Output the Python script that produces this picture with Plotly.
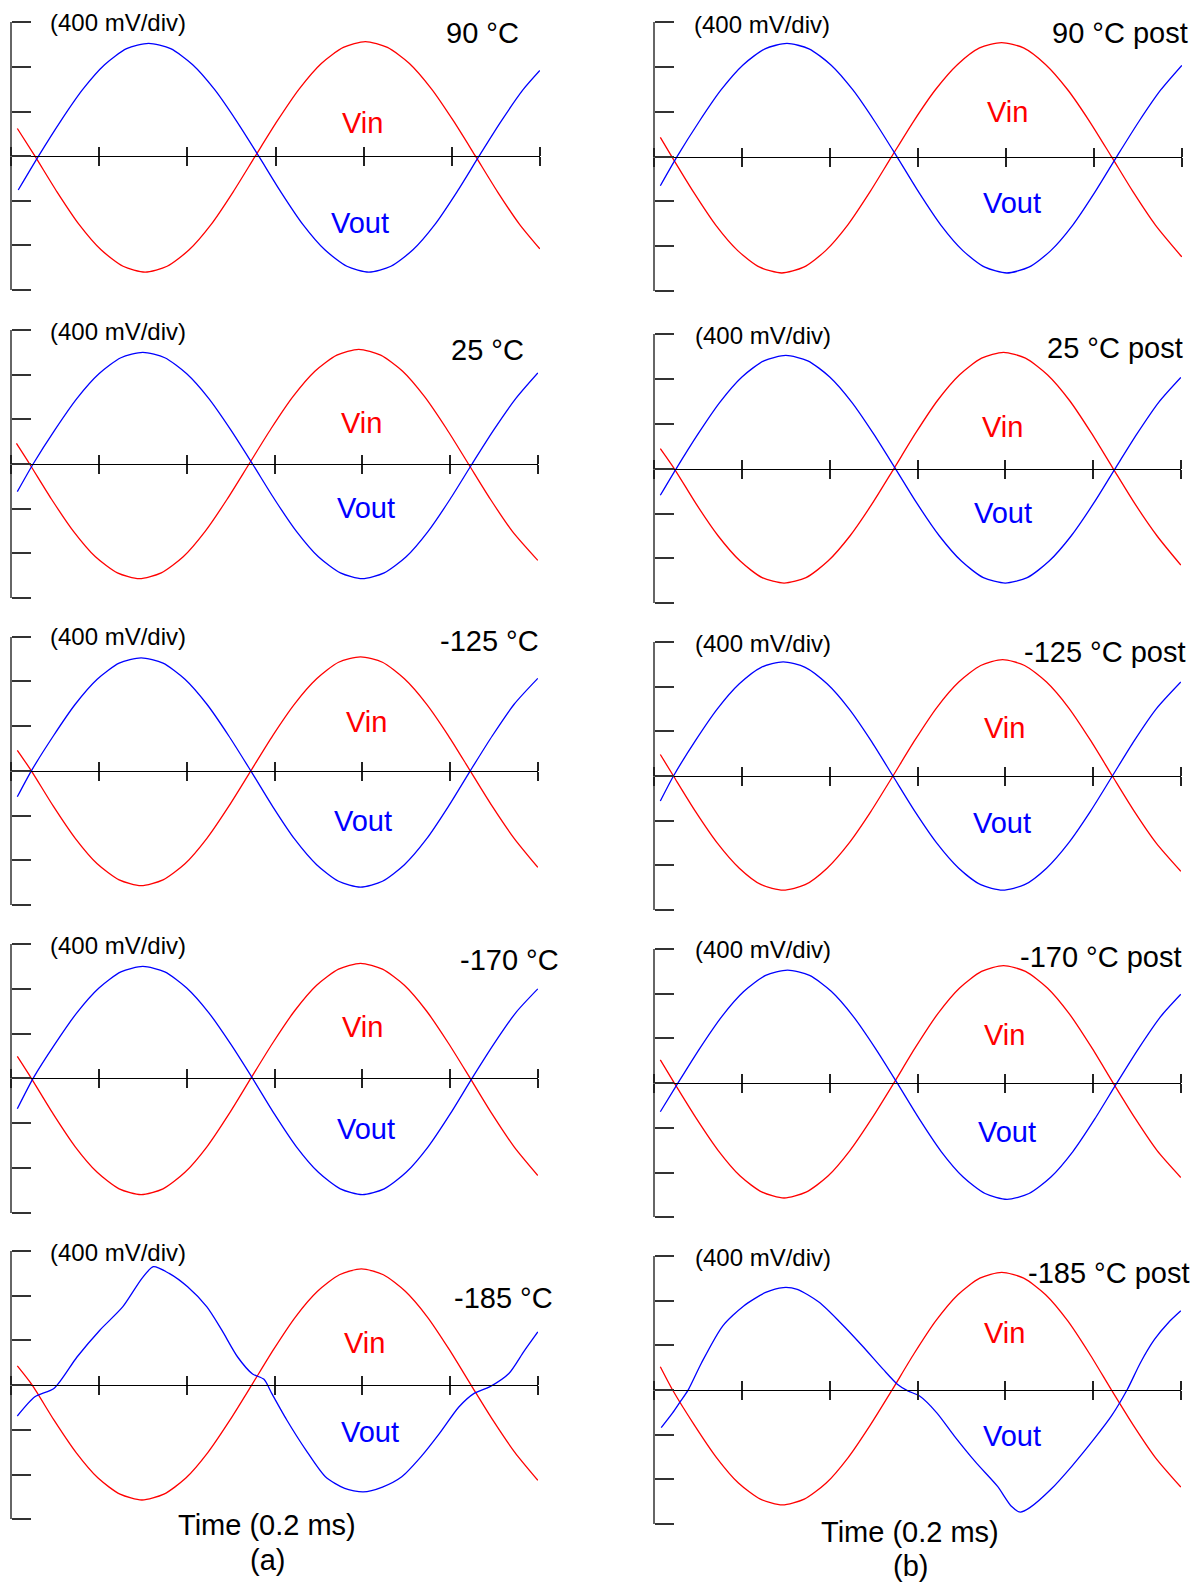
import plotly.graph_objects as go

# ---------------- data (x: time in divisions of 0.2 ms, y: voltage in divisions of 400 mV) ----------------
time_ticks = [0, 1, 2, 3, 4, 5, 6]
volt_ticks = [-3, -2, -1, 0, 1, 2, 3]

temp_labels = ["90 °C", "25 °C", "-125 °C", "-170 °C", "-185 °C",
               "90 °C post", "25 °C post", "-125 °C post", "-170 °C post", "-185 °C post"]
scale_label = "(400 mV/div)"
time_label = "Time (0.2 ms)"
column_labels = ["(a)", "(b)"]

# (a) 90 °C
a90_vin_t = [0.07, 0.27, 0.52, 0.77, 1.02, 1.27, 1.52, 1.77, 2.02, 2.27, 2.52, 2.77, 3.02, 3.27, 3.52, 3.77, 4.02, 4.27, 4.52, 4.77, 5.02, 5.27, 5.52, 5.77, 6.0]
a90_vin_v = [0.62, 0, -0.80, -1.53, -2.10, -2.47, -2.60, -2.47, -2.10, -1.53, -0.80, 0, 0.79, 1.51, 2.08, 2.44, 2.57, 2.44, 2.08, 1.51, 0.79, 0, -0.80, -1.53, -2.08]
a90_vout_t = [0.08, 0.31, 0.56, 0.81, 1.06, 1.31, 1.56, 1.81, 2.06, 2.31, 2.56, 2.81, 3.06, 3.31, 3.56, 3.81, 4.06, 4.31, 4.56, 4.81, 5.06, 5.31, 5.56, 5.81, 6.0]
a90_vout_v = [-0.76, 0, 0.78, 1.49, 2.05, 2.41, 2.53, 2.41, 2.05, 1.49, 0.78, 0, -0.80, -1.53, -2.10, -2.47, -2.60, -2.47, -2.10, -1.53, -0.80, 0, 0.78, 1.49, 1.92]

# (a) 25 °C
a25_vin_t = [0.06, 0.21, 0.46, 0.71, 0.96, 1.21, 1.46, 1.71, 1.96, 2.21, 2.46, 2.71, 2.96, 3.21, 3.46, 3.71, 3.96, 4.21, 4.46, 4.71, 4.96, 5.21, 5.46, 5.71, 6.0]
a25_vin_v = [0.46, 0, -0.79, -1.51, -2.08, -2.44, -2.57, -2.44, -2.08, -1.51, -0.79, 0, 0.79, 1.51, 2.08, 2.44, 2.57, 2.44, 2.08, 1.51, 0.79, 0, -0.79, -1.51, -2.16]
a25_vout_t = [0.07, 0.25, 0.50, 0.75, 1.00, 1.25, 1.50, 1.75, 2.00, 2.25, 2.50, 2.75, 3.00, 3.25, 3.50, 3.75, 4.00, 4.25, 4.50, 4.75, 5.00, 5.25, 5.50, 5.75, 6.0]
a25_vout_v = [-0.62, 0, 0.77, 1.47, 2.02, 2.38, 2.50, 2.38, 2.02, 1.47, 0.77, 0, -0.79, -1.51, -2.08, -2.44, -2.57, -2.44, -2.08, -1.51, -0.79, 0, 0.77, 1.47, 2.04]

# (a) -125 °C
a125_vin_t = [0.07, 0.23, 0.48, 0.73, 0.98, 1.23, 1.48, 1.73, 1.98, 2.23, 2.48, 2.73, 2.98, 3.23, 3.48, 3.73, 3.98, 4.23, 4.48, 4.73, 4.98, 5.23, 5.48, 5.73, 6.0]
a125_vin_v = [0.46, 0, -0.79, -1.51, -2.08, -2.44, -2.57, -2.44, -2.08, -1.51, -0.79, 0, 0.79, 1.50, 2.06, 2.43, 2.55, 2.43, 2.06, 1.50, 0.79, 0, -0.79, -1.51, -2.16]
a125_vout_t = [0.07, 0.23, 0.48, 0.73, 0.98, 1.23, 1.48, 1.73, 1.98, 2.23, 2.48, 2.73, 2.98, 3.23, 3.48, 3.73, 3.98, 4.23, 4.48, 4.73, 4.98, 5.23, 5.48, 5.73, 6.0]
a125_vout_v = [-0.58, 0, 0.78, 1.49, 2.05, 2.41, 2.53, 2.41, 2.05, 1.49, 0.78, 0, -0.80, -1.53, -2.10, -2.47, -2.60, -2.47, -2.10, -1.53, -0.80, 0, 0.78, 1.49, 2.07]

# (a) -170 °C
a170_vin_t = [0.07, 0.23, 0.48, 0.73, 0.98, 1.23, 1.48, 1.73, 1.98, 2.23, 2.48, 2.73, 2.98, 3.23, 3.48, 3.73, 3.98, 4.23, 4.48, 4.73, 4.98, 5.23, 5.48, 5.73, 6.0]
a170_vin_v = [0.49, 0, -0.80, -1.53, -2.10, -2.47, -2.60, -2.47, -2.10, -1.53, -0.80, 0, 0.79, 1.51, 2.08, 2.44, 2.57, 2.44, 2.08, 1.51, 0.79, 0, -0.80, -1.53, -2.17]
a170_vout_t = [0.07, 0.25, 0.50, 0.75, 1.00, 1.25, 1.50, 1.75, 2.00, 2.25, 2.50, 2.75, 3.00, 3.25, 3.50, 3.75, 4.00, 4.25, 4.50, 4.75, 5.00, 5.25, 5.50, 5.75, 6.0]
a170_vout_v = [-0.68, 0, 0.77, 1.47, 2.02, 2.38, 2.50, 2.38, 2.02, 1.47, 0.77, 0, -0.80, -1.53, -2.10, -2.47, -2.60, -2.47, -2.10, -1.53, -0.80, 0, 0.77, 1.47, 2.00]

# (a) -185 °C
a185_vin_t = [0.07, 0.24, 0.49, 0.74, 0.99, 1.24, 1.49, 1.74, 1.99, 2.24, 2.49, 2.74, 2.99, 3.24, 3.49, 3.74, 3.99, 4.24, 4.49, 4.74, 4.99, 5.24, 5.49, 5.74, 6.0]
a185_vin_v = [0.43, 0, -0.79, -1.51, -2.08, -2.44, -2.57, -2.44, -2.08, -1.51, -0.79, 0, 0.80, 1.53, 2.10, 2.47, 2.60, 2.47, 2.10, 1.53, 0.80, 0, -0.79, -1.51, -2.13]
a185_vout_t = [0.07, 0.27, 0.49, 0.75, 1.01, 1.27, 1.49, 1.62, 1.80, 2.01, 2.23, 2.40, 2.58, 2.75, 2.88, 2.97, 3.14, 3.36, 3.58, 3.80, 4.01, 4.23, 4.45, 4.67, 4.88, 5.10, 5.27, 5.45, 5.67, 5.84, 6.00]
a185_vout_v = [-0.69, -0.26, -0.07, 0.63, 1.23, 1.75, 2.39, 2.65, 2.50, 2.20, 1.75, 1.23, 0.63, 0.25, 0.13, -0.19, -0.78, -1.46, -2.05, -2.31, -2.39, -2.28, -2.05, -1.60, -1.08, -0.49, -0.19, -0.04, 0.26, 0.75, 1.19]

# (b) 90 °C post
b90_vin_t = [0.07, 0.20, 0.45, 0.70, 0.95, 1.20, 1.45, 1.70, 1.95, 2.20, 2.45, 2.70, 2.95, 3.20, 3.45, 3.70, 3.95, 4.20, 4.45, 4.70, 4.95, 5.20, 5.45, 5.70, 6.0]
b90_vin_v = [0.43, 0, -0.80, -1.53, -2.10, -2.47, -2.60, -2.47, -2.10, -1.53, -0.80, 0, 0.79, 1.50, 2.06, 2.43, 2.55, 2.43, 2.06, 1.50, 0.79, 0, -0.80, -1.53, -2.24]
b90_vout_t = [0.07, 0.26, 0.51, 0.76, 1.01, 1.26, 1.51, 1.76, 2.01, 2.26, 2.51, 2.76, 3.01, 3.26, 3.51, 3.76, 4.01, 4.26, 4.51, 4.76, 5.01, 5.26, 5.51, 5.76, 6.0]
b90_vout_v = [-0.65, 0, 0.78, 1.49, 2.05, 2.41, 2.53, 2.41, 2.05, 1.49, 0.78, 0, -0.80, -1.53, -2.10, -2.47, -2.60, -2.47, -2.10, -1.53, -0.80, 0, 0.78, 1.49, 2.04]

# (b) 25 °C post
b25_vin_t = [0.07, 0.23, 0.48, 0.73, 0.98, 1.23, 1.48, 1.73, 1.98, 2.23, 2.48, 2.73, 2.98, 3.23, 3.48, 3.73, 3.98, 4.23, 4.48, 4.73, 4.98, 5.23, 5.48, 5.73, 6.0]
b25_vin_v = [0.45, 0, -0.79, -1.50, -2.06, -2.43, -2.55, -2.43, -2.06, -1.50, -0.79, 0, 0.80, 1.53, 2.10, 2.47, 2.60, 2.47, 2.10, 1.53, 0.80, 0, -0.79, -1.50, -2.15]
b25_vout_t = [0.07, 0.25, 0.50, 0.75, 1.00, 1.25, 1.50, 1.75, 2.00, 2.25, 2.50, 2.75, 3.00, 3.25, 3.50, 3.75, 4.00, 4.25, 4.50, 4.75, 5.00, 5.25, 5.50, 5.75, 6.0]
b25_vout_v = [-0.59, 0, 0.78, 1.49, 2.05, 2.41, 2.53, 2.41, 2.05, 1.49, 0.78, 0, -0.79, -1.50, -2.06, -2.43, -2.55, -2.43, -2.06, -1.50, -0.79, 0, 0.78, 1.49, 2.04]

# (b) -125 °C post
b125_vin_t = [0.07, 0.22, 0.47, 0.72, 0.97, 1.22, 1.47, 1.72, 1.97, 2.22, 2.47, 2.72, 2.97, 3.22, 3.47, 3.72, 3.97, 4.22, 4.47, 4.72, 4.97, 5.22, 5.47, 5.72, 6.0]
b125_vin_v = [0.48, 0, -0.79, -1.50, -2.06, -2.43, -2.55, -2.43, -2.06, -1.50, -0.79, 0, 0.80, 1.53, 2.10, 2.47, 2.60, 2.47, 2.10, 1.53, 0.80, 0, -0.79, -1.50, -2.13]
b125_vout_t = [0.07, 0.22, 0.47, 0.72, 0.97, 1.22, 1.47, 1.72, 1.97, 2.22, 2.47, 2.72, 2.97, 3.22, 3.47, 3.72, 3.97, 4.22, 4.47, 4.72, 4.97, 5.22, 5.47, 5.72, 6.0]
b125_vout_v = [-0.56, 0, 0.79, 1.50, 2.06, 2.43, 2.55, 2.43, 2.06, 1.50, 0.79, 0, -0.79, -1.50, -2.06, -2.43, -2.55, -2.43, -2.06, -1.50, -0.79, 0, 0.79, 1.50, 2.10]

# (b) -170 °C post
b170_vin_t = [0.07, 0.23, 0.48, 0.73, 0.98, 1.23, 1.48, 1.73, 1.98, 2.23, 2.48, 2.73, 2.98, 3.23, 3.48, 3.73, 3.98, 4.23, 4.48, 4.73, 4.98, 5.23, 5.48, 5.73, 6.0]
b170_vin_v = [0.52, 0, -0.79, -1.51, -2.08, -2.44, -2.57, -2.44, -2.08, -1.51, -0.79, 0, 0.81, 1.55, 2.13, 2.50, 2.63, 2.50, 2.13, 1.55, 0.81, 0, -0.79, -1.51, -2.11]
b170_vout_t = [0.07, 0.27, 0.52, 0.77, 1.02, 1.27, 1.52, 1.77, 2.02, 2.27, 2.52, 2.77, 3.02, 3.27, 3.52, 3.77, 4.02, 4.27, 4.52, 4.77, 5.02, 5.27, 5.52, 5.77, 6.0]
b170_vout_v = [-0.64, 0, 0.78, 1.49, 2.05, 2.41, 2.53, 2.41, 2.05, 1.49, 0.78, 0, -0.80, -1.53, -2.10, -2.47, -2.60, -2.47, -2.10, -1.53, -0.80, 0, 0.78, 1.49, 1.99]

# (b) -185 °C post
b185_vin_t = [0.07, 0.21, 0.46, 0.71, 0.96, 1.21, 1.46, 1.71, 1.96, 2.21, 2.46, 2.71, 2.96, 3.21, 3.46, 3.71, 3.96, 4.21, 4.46, 4.71, 4.96, 5.21, 5.46, 5.71, 6.0]
b185_vin_v = [0.52, 0, -0.79, -1.51, -2.08, -2.44, -2.57, -2.44, -2.08, -1.51, -0.79, 0, 0.81, 1.55, 2.13, 2.50, 2.63, 2.50, 2.13, 1.55, 0.81, 0, -0.79, -1.51, -2.17]
b185_vout_t = [0.08, 0.21, 0.29, 0.39, 0.54, 0.78, 1.02, 1.27, 1.47, 1.63, 1.88, 2.12, 2.37, 2.61, 2.77, 2.89, 3.02, 3.22, 3.42, 3.67, 3.91, 4.07, 4.17, 4.28, 4.52, 4.76, 5.01, 5.21, 5.39, 5.54, 5.70, 5.86, 6.00]
b185_vout_v = [-0.84, -0.51, -0.28, 0.01, 0.61, 1.43, 1.88, 2.18, 2.29, 2.25, 1.96, 1.51, 0.99, 0.46, 0.13, -0.02, -0.13, -0.51, -1.03, -1.63, -2.15, -2.60, -2.73, -2.63, -2.22, -1.70, -1.10, -0.58, 0.01, 0.61, 1.13, 1.51, 1.77]

series = [
    (a90_vin_t, a90_vin_v, a90_vout_t, a90_vout_v),
    (a25_vin_t, a25_vin_v, a25_vout_t, a25_vout_v),
    (a125_vin_t, a125_vin_v, a125_vout_t, a125_vout_v),
    (a170_vin_t, a170_vin_v, a170_vout_t, a170_vout_v),
    (a185_vin_t, a185_vin_v, a185_vout_t, a185_vout_v),
    (b90_vin_t, b90_vin_v, b90_vout_t, b90_vout_v),
    (b25_vin_t, b25_vin_v, b25_vout_t, b25_vout_v),
    (b125_vin_t, b125_vin_v, b125_vout_t, b125_vout_v),
    (b170_vin_t, b170_vin_v, b170_vout_t, b170_vout_v),
    (b185_vin_t, b185_vin_v, b185_vout_t, b185_vout_v),
]

# ---------------- layout (pixel geometry) ----------------
W, H = 1201, 1583
# left, right, top, bottom of each scope panel
boxes = [(11, 540, 22.3, 290), (11, 538, 330, 598), (11, 538, 636.7, 905),
         (11, 538, 944, 1212.7), (11, 538, 1251, 1519.3),
         (654, 1182, 22.3, 291), (654, 1181, 334.3, 603.3), (654, 1181, 641.7, 910.3),
         (654, 1181, 949, 1217.3), (654, 1181, 1255.7, 1524.3)]
mv_pos = [(118, 23), (118, 331), (118, 637), (118, 945), (118, 1252),
          (762, 24), (763, 335), (763, 643), (763, 949), (763, 1257)]
temp_pos = [(482, 33), (487, 350), (490, 641), (509, 960), (503, 1298),
            (1120, 33), (1115, 348), (1105, 652), (1101, 957), (1109, 1273)]
vin_pos = [(362, 123), (361, 423), (366, 722), (362, 1027), (364, 1343),
           (1007, 112), (1002, 427), (1004, 728), (1004, 1035), (1004, 1333)]
vout_pos = [(360, 223), (366, 508), (363, 821), (366, 1129), (370, 1432),
            (1012, 203), (1003, 513), (1002, 823), (1007, 1132), (1012, 1436)]

FONT = "Arial, Liberation Sans, sans-serif"
RED, BLUE = "#ff0000", "#0000ff"


def px(x, y):
    return x / W, 1 - y / H


fig = go.Figure()
layout = dict(width=W, height=H, margin=dict(l=0, r=0, t=0, b=0),
              paper_bgcolor="white", plot_bgcolor="rgba(0,0,0,0)",
              showlegend=False, font=dict(family=FONT, color="black"))
annotations = []

for i, (box, data) in enumerate(zip(boxes, series), start=1):
    l, r, t, b = box
    xd = [l / W, r / W]
    yd = [1 - b / H, 1 - t / H]
    zero = (yd[0] + yd[1]) / 2
    xk = "xaxis" if i == 1 else f"xaxis{i}"
    xr = "x" if i == 1 else f"x{i}"
    yk = "yaxis" if i == 1 else f"yaxis{i}"
    yr = "y" if i == 1 else f"y{i}"
    xk2 = f"xaxis{i + 10}"
    xr2 = f"x{i + 10}"

    layout[xk] = dict(domain=xd, range=[-0.002, 6.002], anchor="free", position=zero,
                      showline=True, linecolor="black", linewidth=1,
                      ticks="outside", ticklen=9, tickwidth=1.5, tickcolor="#222",
                      tickmode="array", tickvals=time_ticks, showticklabels=False,
                      showgrid=False, zeroline=False, fixedrange=True)
    layout[xk2] = dict(overlaying=xr, range=[-0.002, 6.002], anchor="free", position=zero, side="top",
                       showline=False, ticks="outside", ticklen=9, tickwidth=1.5, tickcolor="#222",
                       tickmode="array", tickvals=time_ticks, showticklabels=False,
                       showgrid=False, zeroline=False, fixedrange=True)
    # vertical scale axis: line at the left edge, ticks pointing right
    layout[yk] = dict(domain=yd, range=[-3.002, 3.002], anchor="free", position=xd[0], side="right",
                      showline=True, linecolor="#666", linewidth=2,
                      ticks="outside", ticklen=19, tickwidth=1.5, tickcolor="#333",
                      tickmode="array", tickvals=volt_ticks, showticklabels=False,
                      showgrid=False, zeroline=False, fixedrange=True)

    vin_t, vin_v, vout_t, vout_v = data
    fig.add_trace(go.Scatter(x=vin_t, y=vin_v, mode="lines", name="Vin",
                             line=dict(color=RED, width=1.3, shape="spline", smoothing=0.7),
                             xaxis=xr, yaxis=yr, hoverinfo="skip"))
    fig.add_trace(go.Scatter(x=vout_t, y=vout_v, mode="lines", name="Vout",
                             line=dict(color=BLUE, width=1.3, shape="spline", smoothing=0.7),
                             xaxis=xr2, yaxis=yr, hoverinfo="skip"))

    j = i - 1
    for (txt, pos, size, color) in [(scale_label, mv_pos[j], 24, "black"),
                                    (temp_labels[j], temp_pos[j], 29, "black"),
                                    ("Vin", vin_pos[j], 29, RED),
                                    ("Vout", vout_pos[j], 29, BLUE)]:
        ax_, ay_ = px(*pos)
        annotations.append(dict(text=txt, x=ax_, y=ay_, xref="paper", yref="paper",
                                xanchor="center", yanchor="middle", showarrow=False,
                                font=dict(size=size, color=color, family=FONT)))

for txt, pos in [(time_label, (267, 1525)), (column_labels[0], (267, 1560)),
                 (time_label, (910, 1532)), (column_labels[1], (910, 1566))]:
    ax_, ay_ = px(*pos)
    annotations.append(dict(text=txt, x=ax_, y=ay_, xref="paper", yref="paper",
                            xanchor="center", yanchor="middle", showarrow=False,
                            font=dict(size=29, color="black", family=FONT)))

layout["annotations"] = annotations
fig.update_layout(**layout)
fig.write_html("out.html", config={"displayModeBar": False})
